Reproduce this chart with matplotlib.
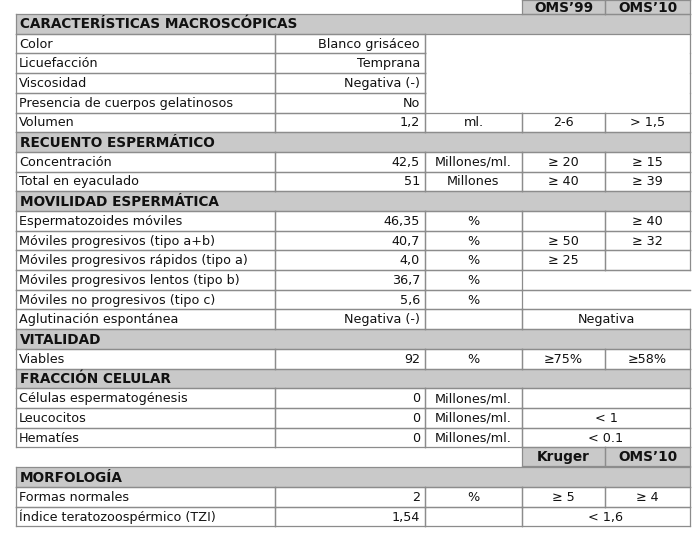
import matplotlib
matplotlib.use("Agg")
import matplotlib.pyplot as plt
from matplotlib.patches import Rectangle

# ---- data ----
sections = ["CARACTERÍSTICAS MACROSCÓPICAS", "RECUENTO ESPERMÁTICO", "MOVILIDAD ESPERMÁTICA",
            "VITALIDAD", "FRACCIÓN CELULAR", "MORFOLOGÍA"]
ref_headers_1 = ["OMS’99", "OMS’10"]
ref_headers_2 = ["Kruger", "OMS’10"]
# (section index, label, value, unit, ref1, ref2, mode)
# mode: 'full' = 5 cells; 'blank3' = cols 3-5 merged empty; 'merge45' = cols 4-5 merged
rows = [
    (0, "Color", "Blanco grisáceo", None, None, None, "blank3"),
    (0, "Licuefacción", "Temprana", None, None, None, "blank3"),
    (0, "Viscosidad", "Negativa (-)", None, None, None, "blank3"),
    (0, "Presencia de cuerpos gelatinosos", "No", None, None, None, "blank3"),
    (0, "Volumen", "1,2", "ml.", "2-6", "> 1,5", "full"),
    (1, "Concentración", "42,5", "Millones/ml.", "≥ 20", "≥ 15", "full"),
    (1, "Total en eyaculado", "51", "Millones", "≥ 40", "≥ 39", "full"),
    (2, "Espermatozoides móviles", "46,35", "%", "", "≥ 40", "full"),
    (2, "Móviles progresivos (tipo a+b)", "40,7", "%", "≥ 50", "≥ 32", "full"),
    (2, "Móviles progresivos rápidos (tipo a)", "4,0", "%", "≥ 25", "", "full"),
    (2, "Móviles progresivos lentos (tipo b)", "36,7", "%", "", None, "open45"),
    (2, "Móviles no progresivos (tipo c)", "5,6", "%", "", None, "open45"),
    (2, "Aglutinación espontánea", "Negativa (-)", "", "Negativa", None, "merge45c"),
    (3, "Viables", "92", "%", "≥75%", "≥58%", "full"),
    (4, "Células espermatogénesis", "0", "Millones/ml.", "", None, "merge45"),
    (4, "Leucocitos", "0", "Millones/ml.", "< 1", None, "merge45"),
    (4, "Hematíes", "0", "Millones/ml.", "< 0.1", None, "merge45"),
    (5, "Formas normales", "2", "%", "≥ 5", "≥ 4", "full"),
    (5, "Índice teratozoospérmico (TZI)", "1,54", "", "< 1,6", None, "merge45"),
]

# ---- layout (pixels) ----
X = [16, 275, 425, 522, 605, 690]
RH = 19.7
GREY = "#c9c9c9"
LINE = "#8c8c8c"
FS = 9.2

fig = plt.figure(figsize=(7, 5.36), dpi=100)
ax = fig.add_axes([0, 0, 1, 1])
ax.set_xlim(0, 700)
ax.set_ylim(536, 0)
ax.axis("off")

def box(x0, x1, y0, y1, fill="white", edges="tblr"):
    ax.add_patch(Rectangle((x0, y0), x1 - x0, y1 - y0, facecolor=fill, edgecolor="none"))
    if "t" in edges: ax.plot([x0, x1], [y0, y0], color=LINE, lw=0.9)
    if "b" in edges: ax.plot([x0, x1], [y1, y1], color=LINE, lw=0.9)
    if "l" in edges: ax.plot([x0, x0], [y0, y1], color=LINE, lw=0.9)
    if "r" in edges: ax.plot([x1, x1], [y0, y1], color=LINE, lw=0.9)

def txt(x, y, s, ha="left", bold=False):
    ax.text(x, y, s, ha=ha, va="center", fontsize=FS + (0.6 if bold else 0),
            fontweight="bold" if bold else "normal", color="#111111")

def ref_header(y0, y1, labels):
    for i, lab in enumerate(labels):
        box(X[3 + i], X[4 + i], y0, y1, fill=GREY)
        txt((X[3 + i] + X[4 + i]) / 2, (y0 + y1) / 2 + 0.5, lab, ha="center", bold=True)

y = 0.0
ref_header(y, 14, ref_headers_1)
y = 14
cur = -1
for sec, label, val, unit, r1, r2, mode in rows:
    if sec != cur:
        if sec == 5:
            ref_header(y, y + 19, ref_headers_2)
            y += 20
        box(X[0], X[5], y, y + RH, fill=GREY)
        txt(X[0] + 4, y + RH / 2 + 0.5, sections[sec], bold=True)
        y += RH
        cur = sec
    y0, y1 = y, y + RH
    ym = (y0 + y1) / 2 + 0.5
    box(X[0], X[1], y0, y1)
    box(X[1], X[2], y0, y1)
    txt(X[0] + 3, ym, label)
    txt(X[2] - 5, ym, val, ha="right")
    if mode == "blank3":
        box(X[2], X[5], y0, y1, edges="lr")
    else:
        box(X[2], X[3], y0, y1)
        txt((X[2] + X[3]) / 2, ym, unit, ha="center")
        if mode == "full":
            box(X[3], X[4], y0, y1)
            box(X[4], X[5], y0, y1)
            txt((X[3] + X[4]) / 2, ym, r1, ha="center")
            txt((X[4] + X[5]) / 2, ym, r2, ha="center")
        elif mode == "open45":
            box(X[3], X[5], y0, y1, edges="tb")
        else:
            box(X[3], X[5], y0, y1)
            txt((X[3] + X[5]) / 2, ym, r1, ha="center")
    y = y1

fig.savefig("out.png", dpi=100)
